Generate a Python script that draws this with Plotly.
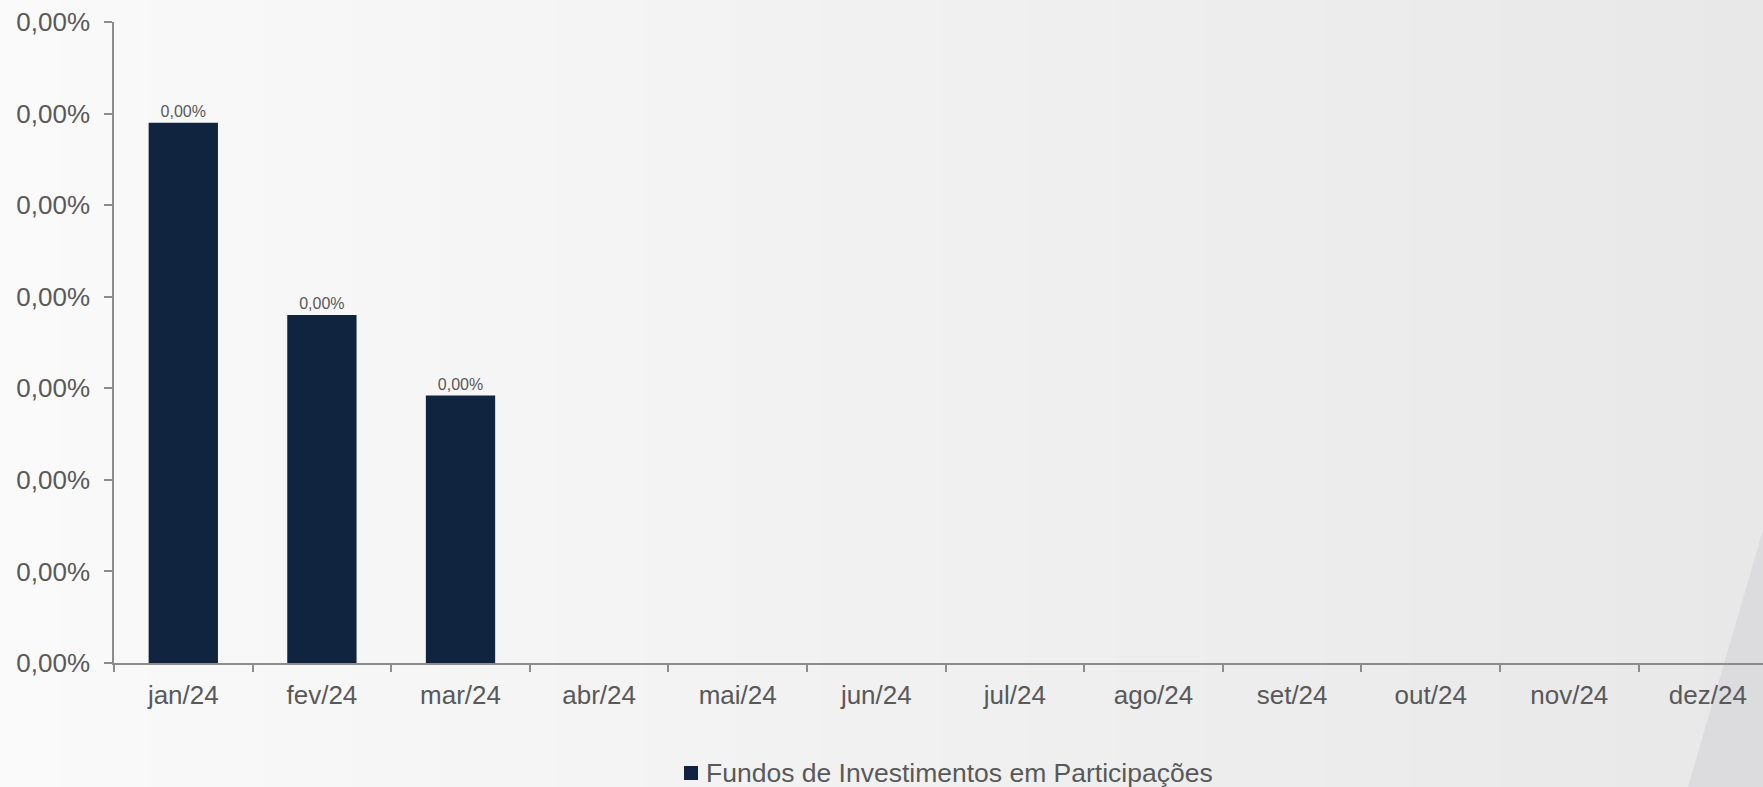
import plotly.graph_objects as go

# ---- data ----
categories = ["jan/24", "fev/24", "mar/24", "abr/24", "mai/24", "jun/24",
              "jul/24", "ago/24", "set/24", "out/24", "nov/24", "dez/24"]
values = [0.0000295, 0.0000190, 0.0000146, None, None, None,
          None, None, None, None, None, None]
series_name = "Fundos de Investimentos em Participações"
y_ticks = [0, 0.000005, 0.00001, 0.000015, 0.00002, 0.000025, 0.00003, 0.000035]

W, H = 1763, 787
L, R, T, B = 114, 0, 22, 124
PW, PH = W - L - R, H - T - B

def px(x):
    return (x - L) / PW

def py(y):
    return (H - B - y) / PH

BAR = "#10243F"
TXT = "#595959"
AX = "#8C8C8C"
FONT = "Liberation Sans, Arial, sans-serif"

fig = go.Figure()
fig.add_trace(go.Bar(
    x=categories, y=values, name=series_name,
    marker=dict(color=BAR, line=dict(width=0)),
    width=0.5,
    texttemplate="%{y:.2%}", textposition="outside",
    textfont=dict(size=16, color=TXT, family=FONT),
    cliponaxis=False, showlegend=False,
))

# background gradient (left light -> right grey)
shapes = []
n = 60
c0 = (250, 250, 250)
c1 = (232, 232, 233)
for i in range(n):
    t = i / (n - 1)
    c = tuple(round(c0[k] + (c1[k] - c0[k]) * t) for k in range(3))
    x0 = i * W / n
    x1 = (i + 1) * W / n + 1
    shapes.append(dict(type="rect", xref="paper", yref="paper",
                       x0=px(x0), x1=px(x1), y0=py(H), y1=py(0),
                       fillcolor="rgb(%d,%d,%d)" % c, line=dict(width=0),
                       layer="below"))
# diagonal wedge bottom-right
shapes.append(dict(type="path", xref="paper", yref="paper",
                   path="M %f %f L %f %f L %f %f Z" % (
                       px(1763), py(530), px(1763), py(787), px(1688), py(787)),
                   fillcolor="#DCDCDE", line=dict(width=0), layer="below"))
# legend swatch
shapes.append(dict(type="rect", xref="paper", yref="paper",
                   x0=px(684), x1=px(698), y0=py(780), y1=py(766),
                   fillcolor=BAR, line=dict(width=0)))

annotations = [dict(text=series_name, xref="paper", yref="paper",
                    x=px(704), y=py(773), xanchor="left", yanchor="middle",
                    showarrow=False,
                    font=dict(size=26.5, color=TXT, family=FONT))]

fig.update_layout(
    width=W, height=H,
    margin=dict(l=L, r=R, t=T, b=B, pad=0),
    paper_bgcolor="#F4F4F5", plot_bgcolor="rgba(0,0,0,0)",
    separators=",.",
    font=dict(family=FONT, color=TXT, size=26),
    shapes=shapes, annotations=annotations,
    bargap=0.5,
    showlegend=False,
    xaxis=dict(
        type="category", range=[-0.5, -0.5 + PW / 138.6],
        showline=True, linecolor=AX, linewidth=1.5,
        ticks="outside", ticklen=7, tickcolor=AX, tickwidth=1.5,
        tickson="boundaries", showgrid=False, zeroline=False,
        tickfont=dict(size=26, color=TXT, family=FONT),
        ticklabelstandoff=8,
    ),
    yaxis=dict(
        range=[0, 0.000035], tickvals=y_ticks, tickformat=".2%",
        showline=True, linecolor=AX, linewidth=1.5,
        ticks="outside", ticklen=8, tickcolor=AX, tickwidth=1.5,
        showgrid=False, zeroline=False,
        tickfont=dict(size=26, color=TXT, family=FONT),
        ticklabelstandoff=9,
    ),
)

fig.write_html("out.html",
               config={"displayModeBar": False},
               post_script="document.body.style.margin='0';"
                           "document.body.style.overflow='hidden';")
